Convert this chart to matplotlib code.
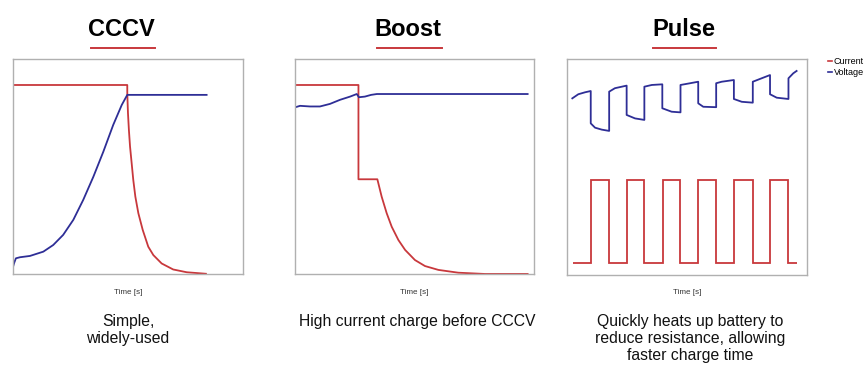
import matplotlib.pyplot as plt
from matplotlib.lines import Line2D

# panel titles and captions
titles = ['CCCV', 'Boost', 'Pulse']
captions = ['Simple,\nwidely-used',
            'High current charge before CCCV',
            'Quickly heats up battery to\nreduce resistance, allowing\nfaster charge time']

# CCCV (time and signal in % of the plot box)
cccv_i_t = [0, 49.7, 49.7, 50.0, 50.4, 50.9, 51.6, 52.3, 53.2, 54.5, 56.4, 58.8, 61.0, 64.6,
            69.6, 75.5, 83.8]
cccv_i_v = [88.0, 88.0, 84.2, 74.9, 67.1, 59.3, 51.6, 43.8, 36.0, 28.3, 20.5, 12.7, 8.8, 4.9,
            2.1, 0.8, 0.1]
cccv_u_t = [0, 0.6, 1.4, 3.2, 7.5, 13.3, 17.6, 21.9, 26.3, 30.6, 35.0, 39.3, 43.6, 47.3, 49.7, 84.1]
cccv_u_v = [2.7, 5.0, 7.3, 7.8, 8.4, 10.4, 13.5, 18.2, 25.2, 34.5, 45.3, 56.9, 69.4, 78.7, 83.4, 83.4]

# Boost
boost_i_t = [0, 26.5, 26.5, 34.4, 36.2, 38.3, 40.4, 43.2, 46.0, 50.1, 54.3, 59.9, 68.2, 79.4, 97.2]
boost_i_v = [88.0, 88.0, 44.1, 44.1, 36.0, 28.3, 22.0, 15.8, 11.2, 6.5, 3.7, 1.9, 0.6, 0.0, 0.0]
boost_u_t = [0, 2.1, 6.3, 10.4, 14.6, 18.8, 23.0, 25.8, 26.7, 29.2, 31.8, 34.2, 97.2]
boost_u_v = [77.6, 78.3, 78.0, 78.0, 79.2, 81.1, 82.6, 83.8, 82.3, 82.6, 83.4, 83.8, 83.8]

# Pulse
pulse_edges = [2.5, 9.8, 17.5, 24.8, 32.2, 39.8, 47.1, 54.7, 62.1, 69.6, 77.4, 84.7, 92.3, 95.8]
pulse_levels = [5.7, 44.0, 5.7, 44.0, 5.7, 44.0, 5.7, 44.0, 5.7, 44.0, 5.7, 44.0, 5.7]
pulse_u_t = [2.1, 4.6, 7.4, 9.8, 9.8, 11.6, 14.4, 17.5, 17.5, 19.9, 24.8, 24.8, 28.3, 32.2,
             32.2, 35.3, 39.7, 39.7, 43.6, 47.3, 47.3, 51.3, 54.7, 54.7, 56.8, 62.2,
             62.2, 64.5, 69.6, 69.6, 72.9, 77.5, 77.5, 81.2, 84.7, 84.7, 87.5, 92.4,
             92.4, 94.4, 95.8]
pulse_u_v = [81.9, 83.8, 84.7, 85.3, 70.3, 68.3, 67.4, 66.8, 85.0, 86.6, 87.8, 74.2, 72.6, 71.9,
             87.3, 88.1, 88.4, 77.3, 75.7, 75.4, 88.1, 88.9, 89.6, 79.6, 78.0, 77.8,
             88.9, 89.6, 90.4, 81.6, 80.3, 79.9, 89.6, 91.2, 92.7, 83.8, 82.2, 81.6,
             91.2, 93.5, 94.6]

RED = '#c8383c'
BLUE = '#2e2e96'

plt.rcParams['font.family'] = ['Liberation Sans', 'DejaVu Sans']

fig = plt.figure(figsize=(8.67, 3.69), dpi=100)

boxes = [[0.0146, 0.2575, 0.266, 0.582],
         [0.3403, 0.2575, 0.276, 0.582],
         [0.6543, 0.2547, 0.2761, 0.5846]]
title_x = [121.7, 407.7, 684.0]
under_x = [(91, 155), (376.7, 441.7), (652.7, 716)]
time_x = [128, 414, 687]
cap_x = [128, 417, 690.5]

axes = []
for b in boxes:
    ax = fig.add_axes(b)
    ax.set_xlim(0, 100)
    ax.set_ylim(0, 100)
    ax.set_xticks([])
    ax.set_yticks([])
    for s in ax.spines.values():
        s.set_color('#b0b0b0')
        s.set_linewidth(1)
    axes.append(ax)

axes[0].plot(cccv_i_t, cccv_i_v, color=RED, lw=1.3)
axes[0].plot(cccv_u_t, cccv_u_v, color=BLUE, lw=1.3)

axes[1].plot(boost_i_t, boost_i_v, color=RED, lw=1.3)
axes[1].plot(boost_u_t, boost_u_v, color=BLUE, lw=1.3)

axes[2].stairs(pulse_levels, pulse_edges, baseline=None, color=RED, lw=1.3)
axes[2].plot(pulse_u_t, pulse_u_v, color=BLUE, lw=1.3)
axes[2].legend(loc='upper left', bbox_to_anchor=(1.07, 1.03), frameon=False, fontsize=6.5,
               handlelength=0.5, handletextpad=0.15, labelspacing=0.15, borderpad=0,
               handles=[Line2D([], [], color=RED, lw=1.2), Line2D([], [], color=BLUE, lw=1.2)],
               labels=['Current', 'Voltage'])

W, H = 867.0, 369.0
for i in range(3):
    fig.text(title_x[i] / W, 1 - 30 / H, titles[i], ha='center', va='center',
             fontsize=17, fontweight='bold')
    x0, x1 = under_x[i]
    fig.add_artist(Line2D([x0 / W, x1 / W], [1 - 48 / H, 1 - 48 / H], color=RED, lw=1.4))
    fig.text(time_x[i] / W, 1 - 293 / H, 'Time [s]', ha='center', va='center',
             fontsize=5.8, color='#333333')
    fig.text(cap_x[i] / W, 1 - 314 / H, captions[i], ha='center', va='top',
             fontsize=11.3, linespacing=1.16, color='#111111')

fig.savefig('out.png', dpi=100, facecolor='white')
